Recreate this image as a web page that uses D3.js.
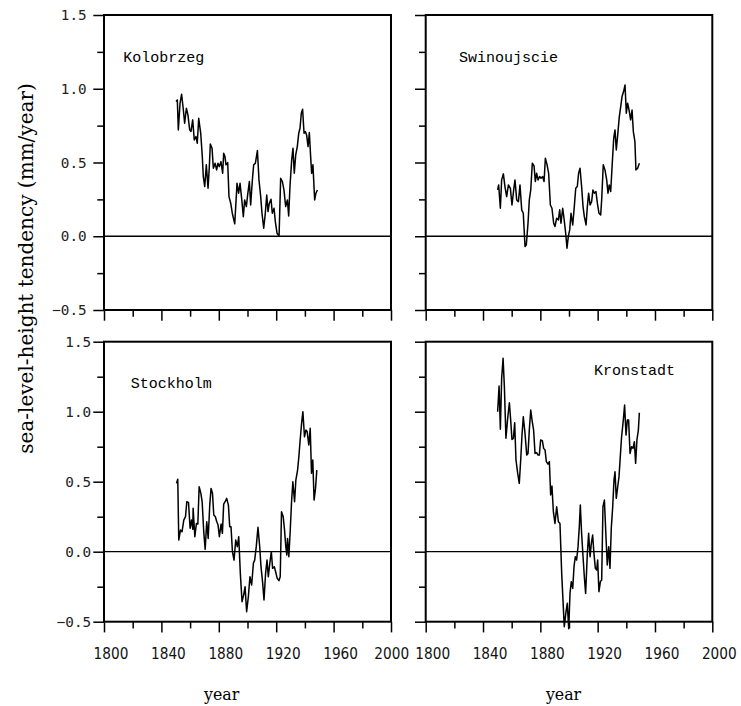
<!DOCTYPE html>
<html><head><meta charset="utf-8">
<script src="https://cdn.jsdelivr.net/npm/d3@7"></script>
<style>body{margin:0;background:#fff}svg{display:block}</style>
</head><body>
<svg id="chart" width="741" height="706"></svg>
<script>
// ---------- data ----------
const yearTicks = [1800,1820,1840,1860,1880,1900,1920,1940,1960,1980,2000];
const yearLabels = [1800,1840,1880,1920,1960,2000];
const valueTicks = [-0.5,-0.25,0,0.25,0.5,0.75,1.0,1.25,1.5];
const valueLabels = [-0.5,0,0.5,1.0,1.5];
const stationNames = ["Kolobrzeg","Swinoujscie","Stockholm","Kronstadt"];
const yTitle = "sea-level-height tendency (mm/year)";
const xTitle = "year";

const kolobrzeg = [[1850.2,0.913],[1851.1,0.924],[1851.8,0.721],[1853.0,0.902],[1854.1,0.963],[1855.3,0.856],[1856.2,0.766],[1857.4,0.868],[1858.5,0.823],[1859.7,0.721],[1860.6,0.710],[1861.8,0.789],[1862.9,0.653],[1864.1,0.676],[1865.0,0.631],[1866.0,0.800],[1867.4,0.698],[1868.5,0.540],[1869.2,0.405],[1870.2,0.337],[1871.3,0.484],[1872.5,0.325],[1873.4,0.472],[1874.1,0.626],[1875.3,0.597],[1876.2,0.461],[1877.4,0.495],[1878.5,0.450],[1879.4,0.495],[1880.4,0.472],[1881.5,0.506],[1882.7,0.427],[1883.4,0.563],[1884.3,0.540],[1885.0,0.484],[1886.2,0.499],[1887.1,0.269],[1888.3,0.224],[1889.4,0.156],[1891.1,0.084],[1892.7,0.359],[1893.8,0.292],[1894.8,0.359],[1895.9,0.258],[1897.1,0.133],[1898.0,0.246],[1899.2,0.201],[1900.1,0.280],[1901.3,0.371],[1902.2,0.212],[1903.4,0.382],[1904.3,0.484],[1905.5,0.495],[1906.9,0.581],[1908.0,0.382],[1909.2,0.269],[1910.1,0.156],[1911.3,0.054],[1912.4,0.156],[1913.4,0.280],[1914.3,0.167],[1915.2,0.224],[1916.4,0.251],[1917.3,0.156],[1918.5,0.190],[1919.4,0.099],[1920.6,0.020],[1922.0,0.002],[1923.1,0.393],[1924.3,0.371],[1925.4,0.314],[1926.6,0.201],[1927.8,0.246],[1928.7,0.138],[1929.6,0.337],[1930.8,0.518],[1931.7,0.597],[1932.6,0.427],[1933.6,0.551],[1934.7,0.608],[1935.7,0.698],[1936.6,0.732],[1937.5,0.834],[1938.4,0.861],[1939.4,0.698],[1940.3,0.710],[1941.2,0.687],[1942.2,0.608],[1943.1,0.703],[1944.0,0.540],[1944.7,0.427],[1945.6,0.484],[1946.8,0.246],[1947.7,0.292],[1948.7,0.314]];

const swinoujscie = [[1850.2,0.314],[1850.9,0.348],[1852.1,0.190],[1853.0,0.382],[1854.2,0.423],[1855.3,0.337],[1856.5,0.269],[1857.7,0.348],[1859.1,0.325],[1860.2,0.212],[1861.4,0.314],[1862.3,0.382],[1863.5,0.246],[1864.7,0.235],[1865.8,0.348],[1867.0,0.179],[1868.1,0.156],[1869.3,-0.070],[1870.2,-0.059],[1871.4,0.088],[1872.3,0.246],[1873.3,0.314],[1874.4,0.495],[1875.6,0.477],[1876.5,0.371],[1877.4,0.427],[1878.4,0.382],[1879.5,0.405],[1880.5,0.393],[1881.6,0.405],[1882.6,0.371],[1883.5,0.529],[1884.7,0.484],[1885.8,0.427],[1887.0,0.212],[1888.1,0.190],[1889.3,0.088],[1890.2,0.066],[1891.4,0.122],[1892.6,0.111],[1893.5,0.179],[1894.4,0.088],[1895.6,0.190],[1896.5,0.122],[1897.7,0.020],[1898.6,-0.081],[1899.5,-0.002],[1900.5,0.043],[1901.4,0.156],[1902.6,0.077],[1903.7,0.201],[1904.7,0.325],[1905.8,0.337],[1906.7,0.427],[1907.7,0.461],[1908.8,0.337],[1909.8,0.201],[1910.7,0.133],[1911.9,0.077],[1912.8,0.201],[1913.7,0.292],[1914.7,0.212],[1915.8,0.235],[1916.7,0.314],[1917.7,0.292],[1918.8,0.303],[1919.8,0.224],[1920.9,0.156],[1922.1,0.145],[1922.8,0.246],[1923.9,0.484],[1925.1,0.450],[1926.3,0.382],[1927.2,0.292],[1928.1,0.348],[1929.1,0.303],[1930.0,0.461],[1931.2,0.664],[1932.1,0.721],[1933.0,0.585],[1934.0,0.687],[1935.1,0.811],[1936.1,0.879],[1937.0,0.947],[1938.1,0.981],[1939.1,1.026],[1940.0,0.834],[1940.9,0.902],[1941.9,0.856],[1943.0,0.789],[1944.0,0.856],[1944.9,0.710],[1946.0,0.642],[1946.7,0.450],[1947.9,0.461],[1949.1,0.495]];

const stockholm = [[1850.5,0.488],[1851.4,0.517],[1852.1,0.083],[1853.3,0.155],[1854.4,0.143],[1855.6,0.226],[1856.8,0.250],[1857.7,0.357],[1858.9,0.350],[1860.0,0.167],[1861.0,0.226],[1861.9,0.160],[1862.1,0.310],[1863.3,0.107],[1864.4,0.202],[1865.4,0.198],[1866.3,0.464],[1867.5,0.417],[1868.4,0.357],[1869.5,0.143],[1870.5,0.017],[1871.6,0.214],[1872.6,0.095],[1873.7,0.333],[1874.6,0.452],[1875.6,0.417],[1876.5,0.262],[1877.6,0.250],[1878.6,0.214],[1879.5,0.190],[1880.4,0.107],[1881.6,0.198],[1882.5,0.131],[1883.4,0.340],[1884.4,0.357],[1885.5,0.381],[1886.7,0.333],[1887.6,0.179],[1888.5,0.179],[1889.5,0.000],[1890.6,-0.060],[1891.8,0.083],[1892.9,0.036],[1893.9,0.107],[1895.0,-0.155],[1896.2,-0.357],[1897.3,-0.310],[1898.3,-0.250],[1899.4,-0.429],[1900.6,-0.321],[1901.7,-0.179],[1902.9,-0.238],[1904.1,-0.083],[1905.0,-0.060],[1906.1,0.036],[1907.3,0.174],[1908.5,0.036],[1909.4,-0.107],[1910.6,-0.226],[1911.5,-0.345],[1912.6,-0.155],[1913.6,-0.060],[1914.5,-0.179],[1915.4,-0.095],[1916.6,0.000],[1917.5,-0.119],[1918.7,-0.107],[1919.6,-0.143],[1920.7,-0.190],[1921.9,-0.207],[1922.8,-0.179],[1923.7,0.286],[1924.9,0.250],[1925.8,0.155],[1926.7,0.036],[1927.4,-0.024],[1927.9,0.095],[1928.8,-0.036],[1929.8,0.155],[1930.7,0.357],[1931.6,0.500],[1932.8,0.357],[1933.7,0.512],[1934.9,0.583],[1935.8,0.679],[1936.7,0.798],[1937.7,0.917],[1938.6,1.000],[1939.7,0.821],[1940.7,0.869],[1941.6,0.857],[1942.7,0.762],[1943.7,0.881],[1944.6,0.560],[1945.5,0.655],[1946.4,0.369],[1947.4,0.452],[1948.3,0.583]];

const kronstadt = [[1850.2,1.000],[1851.2,1.183],[1852.1,0.874],[1853.0,1.238],[1854.0,1.381],[1854.9,1.179],[1856.0,0.810],[1857.2,0.952],[1858.4,1.064],[1859.3,0.940],[1860.2,0.802],[1861.2,0.810],[1862.1,0.921],[1863.0,0.655],[1864.2,0.560],[1865.3,0.488],[1866.3,0.655],[1867.2,0.833],[1868.1,0.964],[1869.3,0.845],[1870.5,0.690],[1871.4,0.702],[1872.3,0.869],[1873.3,1.012],[1874.2,0.940],[1875.3,0.869],[1876.3,0.702],[1877.4,0.707],[1878.4,0.690],[1879.3,0.690],[1880.2,0.798],[1881.4,0.793],[1882.3,0.738],[1883.3,0.726],[1884.2,0.643],[1885.3,0.626],[1886.3,0.643],[1887.2,0.405],[1888.1,0.469],[1889.1,0.286],[1890.2,0.202],[1891.4,0.321],[1892.6,0.214],[1893.7,0.202],[1894.9,-0.155],[1895.8,-0.345],[1896.7,-0.536],[1897.9,-0.429],[1898.8,-0.369],[1899.8,-0.550],[1900.7,-0.298],[1901.6,-0.214],[1902.6,-0.262],[1903.5,-0.107],[1904.4,-0.036],[1905.3,-0.060],[1906.3,0.036],[1907.2,0.179],[1907.9,0.333],[1908.8,0.131],[1909.8,-0.036],[1910.7,-0.179],[1911.6,-0.298],[1912.8,-0.012],[1913.7,0.131],[1914.7,-0.036],[1915.6,0.060],[1916.5,0.119],[1917.4,-0.012],[1918.4,-0.119],[1919.3,-0.131],[1920.0,-0.060],[1920.9,-0.286],[1921.9,-0.214],[1922.8,-0.202],[1923.7,0.321],[1924.7,0.369],[1925.8,0.107],[1926.7,-0.095],[1927.7,0.036],[1928.6,-0.119],[1929.5,0.167],[1930.5,0.321],[1931.4,0.512],[1932.1,0.571],[1933.0,0.381],[1934.0,0.464],[1934.9,0.536],[1935.8,0.679],[1936.7,0.821],[1937.9,0.940],[1938.8,1.048],[1939.8,0.833],[1940.7,0.940],[1941.6,0.940],[1942.6,0.702],[1943.7,0.750],[1944.7,0.738],[1945.6,0.786],[1946.5,0.631],[1947.4,0.798],[1948.4,0.869],[1949.1,0.993]];

const seriesList = [kolobrzeg, swinoujscie, stockholm, kronstadt];

// ---------- layout ----------
const svg = d3.select("#chart");
const layout = [
  {x0:104, x1:391, y0:15, y1:310, showX:false, showY:true, lx:123.3, ly:62, yLabEnd:86.7},
  {x0:425.7, x1:712.3, y0:15, y1:310, showX:false, showY:false, lx:459, ly:62},
  {x0:104, x1:391, y0:341.7, y1:621.7, showX:true, showY:true, lx:130.7, ly:388.3, yLabEnd:91.2, leftCol:true},
  {x0:425.7, x1:712.3, y0:341.7, y1:621.7, showX:true, showY:false, lx:594, ly:375}
];

layout.forEach((L, i) => {
  const x = d3.scaleLinear().domain([1800, 2000]).range([L.x0, L.x1]);
  const y = d3.scaleLinear().domain([-0.5, 1.5]).range([L.y1, L.y0]);
  const g = svg.append("g");

  // minor + major x ticks
  const majorX = yearTicks.filter(t => yearLabels.includes(t));
  const minorX = yearTicks.filter(t => !yearLabels.includes(t));
  const axX1 = g.append("g").attr("transform", `translate(0,${L.y1})`)
    .call(d3.axisBottom(x).tickValues(minorX).tickSize(6.7).tickFormat(""));
  const axX2 = g.append("g").attr("transform", `translate(0,${L.y1})`)
    .call(d3.axisBottom(x).tickValues(majorX).tickSize(10.7).tickFormat(""));
  const majorY = valueTicks.filter(t => valueLabels.includes(t));
  const minorY = valueTicks.filter(t => !valueLabels.includes(t));
  const axY1 = g.append("g").attr("transform", `translate(${L.x0},0)`)
    .call(d3.axisLeft(y).tickValues(minorY).tickSize(6.7).tickFormat(""));
  const axY2 = g.append("g").attr("transform", `translate(${L.x0},0)`)
    .call(d3.axisLeft(y).tickValues(majorY).tickSize(10.7).tickFormat(""));
  [axX1, axX2, axY1, axY2].forEach(a => {
    a.select(".domain").remove();
    a.selectAll("line").attr("stroke", "#000").attr("stroke-width", 1.5);
  });

  // frame
  g.append("rect").attr("x", L.x0).attr("y", L.y0)
    .attr("width", L.x1 - L.x0).attr("height", L.y1 - L.y0)
    .attr("fill", "none").attr("stroke", "#000").attr("stroke-width", 2);

  // zero line
  g.append("line").attr("x1", L.x0).attr("x2", L.x1)
    .attr("y1", y(0)).attr("y2", y(0))
    .attr("stroke", "#000").attr("stroke-width", 1.3);

  // data line
  g.append("path").datum(seriesList[i])
    .attr("fill", "none").attr("stroke", "#000").attr("stroke-width", 1.5)
    .attr("stroke-linejoin", "round")
    .attr("d", d3.line().x(d => x(d[0])).y(d => y(d[1])));

  // station label
  g.append("text").attr("x", L.lx).attr("y", L.ly)
    .attr("font-family", "'Liberation Mono', 'DejaVu Sans Mono', monospace")
    .attr("font-size", 15).attr("fill", "#000").text(stationNames[i]);

  // y tick labels
  if (L.showY) {
    g.selectAll(".ylab").data(valueLabels).enter().append("text")
      .attr("x", L.yLabEnd).attr("y", d => y(d)).attr("dy", "0.36em")
      .attr("text-anchor", "end")
      .attr("font-family", "'DejaVu Sans Mono', monospace")
      .attr("font-size", 14.3).attr("fill", "#222")
      .text(d => d3.format(".1f")(d).replace("-", "\u2212"));
  }
  // x tick labels
  if (L.showX) {
    g.selectAll(".xlab").data(yearLabels).enter().append("text")
      .attr("x", d => x(d) + ((L.leftCol && d === 2000) ? 0.7 : 7))
      .attr("y", 658.5)
      .attr("text-anchor", "middle")
      .attr("font-family", "'DejaVu Sans Condensed', 'DejaVu Sans', sans-serif")
      .attr("font-stretch", "condensed")
      .attr("font-size", 15.2).attr("fill", "#111")
      .text(d => d);
    g.append("text").attr("x", L.leftCol ? 221.7 : 563.5).attr("y", 700)
      .attr("text-anchor", "middle")
      .attr("font-family", "'DejaVu Serif', serif")
      .attr("font-size", 15.8).attr("fill", "#000").text(xTitle);
  }
});

// y-axis title
svg.append("text")
  .attr("transform", "translate(32.5,268.5) rotate(-90)")
  .attr("text-anchor", "middle")
  .attr("font-family", "'DejaVu Serif', serif")
  .attr("font-size", 20).attr("fill", "#000")
  .text(yTitle);
</script>
</body></html>
